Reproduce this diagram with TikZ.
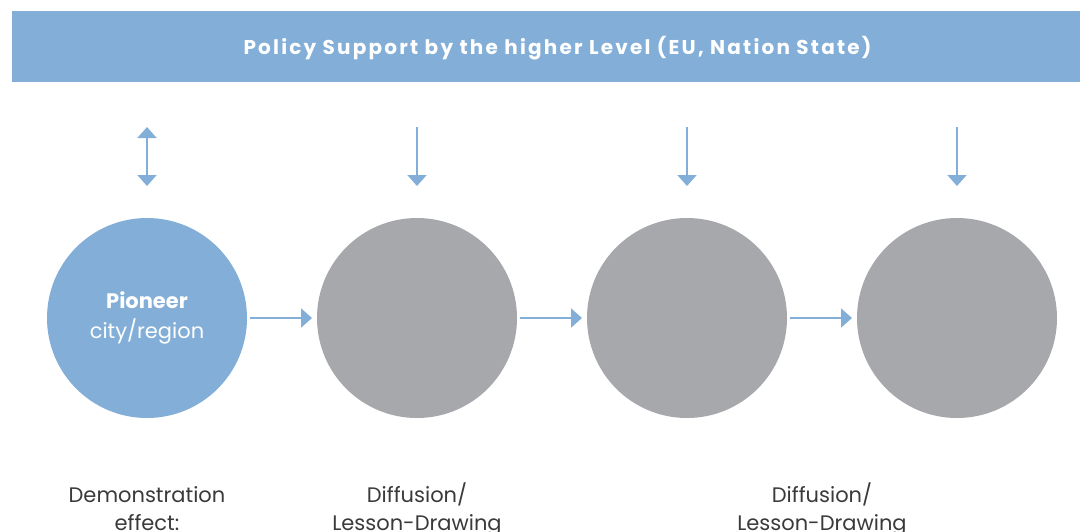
\documentclass[tikz,border=0pt]{standalone}
\usepackage{fontspec}
\setmainfont{Poppins}
\usetikzlibrary{arrows.meta,positioning}

\definecolor{policyblue}{HTML}{82AED7}
\definecolor{citygray}{HTML}{A7A8AB}
\definecolor{labeltext}{HTML}{3A3A3A}

\begin{document}
\begin{tikzpicture}[
        x=1pt, y=-1pt,
        node distance=70pt,
        every path/.style={line width=2pt},
        city/.style={circle, fill=citygray, minimum size=200pt, inner sep=0pt, outer sep=0pt},
        pioneer/.style={city, fill=policyblue, text=white, align=center, font=\fontsize{21}{30}\selectfont},
        flow/.style={draw=policyblue, -{Triangle[width=19pt,length=11pt]}},
        caption/.style={text=labeltext, align=center, anchor=north, inner sep=0pt, text height=16pt, font=\fontsize{21}{28}\selectfont}
    ]
    \useasboundingbox (0,0) rectangle (1080,531);

    % Banner
    \node (banner) [fill=policyblue, minimum width=1069pt, minimum height=71pt,
        inner sep=0pt, anchor=north west] at (11,10) {};
    \node (title) [text=white, font=\bfseries\fontsize{20}{22}\selectfont, xshift=11pt, yshift=-2pt]
        at (banner) {\addfontfeature{LetterSpace=11}Policy Support by the higher Level (EU, Nation State)};

    % Cities
    \node (c1) [pioneer] at (147,318) {\textbf{Pioneer}\\city/region};
    \node (c2) [city, right=of c1] {};
    \node (c3) [city, right=of c2] {};
    \node (c4) [city, right=of c3] {};

    % Arrows from the higher level
    \draw[flow, {Triangle[width=19pt,length=11pt]}-{Triangle[width=19pt,length=11pt]},
        shorten <=44pt, shorten >=32pt] (banner.south -| c1) -- (c1);
    \foreach \c in {c2,c3,c4}
        \draw[flow, shorten <=44pt, shorten >=32pt] (banner.south -| \c) -- (\c);

    % Diffusion between cities
    \draw[flow, shorten <=3pt, shorten >=5pt] (c1) -- (c2);
    \draw[flow, shorten <=3pt, shorten >=5pt] (c2) -- (c3);
    \draw[flow, shorten <=3pt, shorten >=5pt] (c3) -- (c4);

    % Captions
    \node (demo) [caption, below=95pt of c1] {Demonstration\\effect:};
    \node (diff1) [caption, below=95pt of c2] {Diffusion/\\Lesson-Drawing};
    \node (diff2) [caption] at (822,513) {Diffusion/\\Lesson-Drawing};
\end{tikzpicture}
\end{document}
